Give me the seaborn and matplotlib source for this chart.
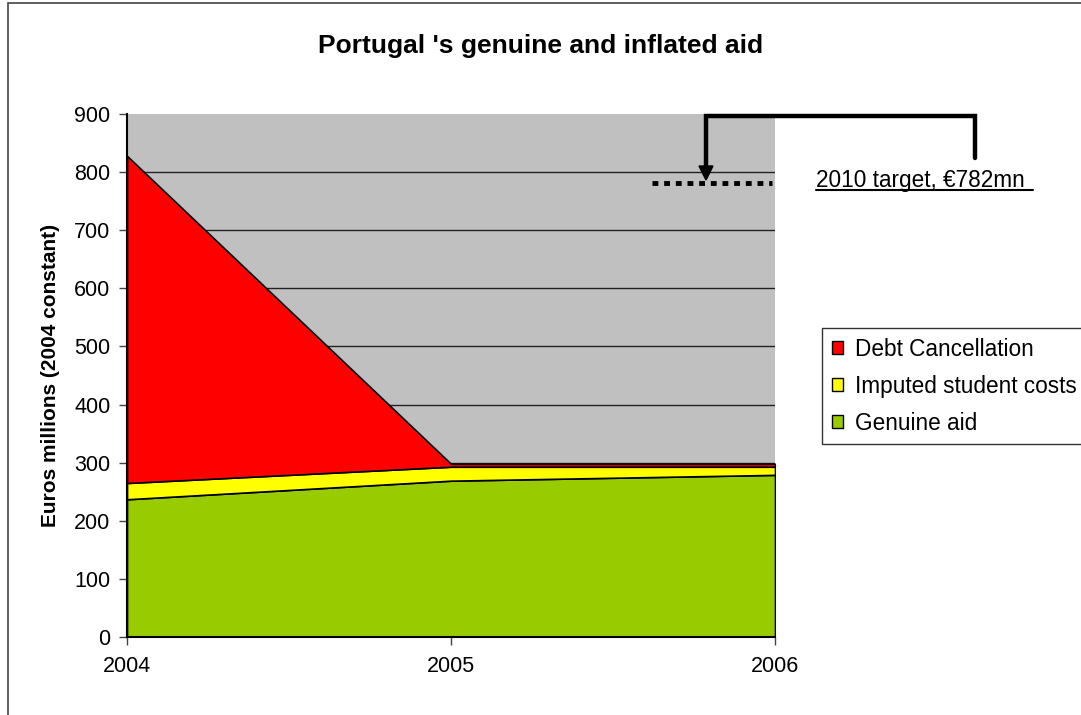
import matplotlib
matplotlib.use("Agg")
import matplotlib.pyplot as plt
import seaborn as sns
import numpy as np
from matplotlib.patches import Patch, Rectangle, Polygon
from matplotlib.lines import Line2D

# ---- data ----
years = [2004, 2005, 2006]
genuine_aid = [237, 269, 279]
student_costs = [28, 24, 14]
debt_cancellation = [563, 5, 5]
series_labels = ["Genuine aid", "Imputed student costs", "Debt Cancellation"]
series_colors = ["#99CC00", "#FFFF00", "#FF0000"]
target_2010 = 782
target_label = "2010 target, \u20ac782mn"
title = "Portugal 's genuine and inflated aid"
ylabel = "Euros millions (2004 constant)"
yticks = [0, 100, 200, 300, 400, 500, 600, 700, 800, 900]

sns.set_style("white")
plt.rcParams["font.family"] = ["Liberation Sans", "DejaVu Sans"]
plt.rcParams["text.color"] = "black"
plt.rcParams["axes.labelcolor"] = "black"
plt.rcParams["xtick.color"] = "black"
plt.rcParams["ytick.color"] = "black"

W, H = 1081, 715
def fx(px):
    return px / W
def fy(py):
    return 1 - py / H

fig = plt.figure(figsize=(10.81, 7.15), dpi=100)
ax = fig.add_axes([fx(127), fy(637), (775 - 127) / W, (637 - 114) / H])
ax.set_facecolor("#C0C0C0")

ax.stackplot(years, genuine_aid, student_costs, debt_cancellation,
             colors=series_colors, edgecolor="black", linewidth=1.2, zorder=3)

ax.set_xlim(years[0], years[-1])
ax.set_ylim(0, 900)
ax.set_yticks(yticks)
ax.set_xticks(years)
ax.set_xticklabels([str(y) for y in years])
ax.tick_params(axis="both", labelsize=15.5, direction="out", length=6, width=1,
               color="#444444", labelcolor="black", left=True, bottom=True)
ax.tick_params(axis="x", pad=8)
ax.tick_params(axis="y", pad=6)
for y in yticks[1:-1]:
    ax.axhline(y, color="#222222", linewidth=1, zorder=1)
for s in ["top", "right"]:
    ax.spines[s].set_visible(False)
for s in ["left", "bottom"]:
    ax.spines[s].set_color("black")
    ax.spines[s].set_linewidth(1.5)
    ax.spines[s].set_zorder(5)

ax.set_ylabel(ylabel, fontsize=15, fontweight="bold", labelpad=10, color="black")
fig.text(fx(541), fy(53), title, ha="center", va="baseline", fontsize=19, fontweight="bold", color="black")

# target line
ax.hlines(target_2010, 2005.62, 2005.99, colors="black", linewidth=3.5,
          linestyles=(0, (1.2, 1.2)), zorder=6, clip_on=False)

# elbow arrow (drawn in figure pixel space)
bx_right, bx_arrow, by_top, by_right_end = 975, 706, 116, 158
fig.add_artist(Line2D([fx(bx_right), fx(bx_right), fx(bx_arrow), fx(bx_arrow)],
                      [fy(by_right_end), fy(by_top), fy(by_top), fy(168)],
                      color="black", linewidth=3.2, solid_joinstyle="miter"))
fig.add_artist(Polygon(
    [[fx(bx_arrow - 7), fy(166)], [fx(bx_arrow + 7), fy(166)], [fx(bx_arrow), fy(180)]],
    closed=True, transform=fig.transFigure, facecolor="black", edgecolor="black"))

fig.text(fx(816), fy(187), target_label, ha="left", va="baseline", fontsize=16.3, color="black")
fig.add_artist(Line2D([fx(816), fx(1033)], [fy(189.5), fy(189.5)], color="black", linewidth=1.5))

# legend
handles = [Patch(facecolor=series_colors[i], edgecolor="black", label=series_labels[i]) for i in [2, 1, 0]]
leg = fig.legend(handles=handles, loc="upper left", bbox_to_anchor=(fx(822), fy(328)),
                 fontsize=16.3, frameon=True, fancybox=False, handlelength=0.52, handleheight=0.52,
                 handletextpad=0.5, labelspacing=0.62, borderpad=0.42, borderaxespad=0,
                 labelcolor="black")
leg.get_frame().set_edgecolor("black")
leg.get_frame().set_linewidth(1)

# outer border
fig.add_artist(Rectangle((fx(8), fy(730)), 1.2, (730 - 3) / H, transform=fig.transFigure,
                         fill=False, edgecolor="#444444", linewidth=1.2))

fig.savefig("out.png", dpi=100)
